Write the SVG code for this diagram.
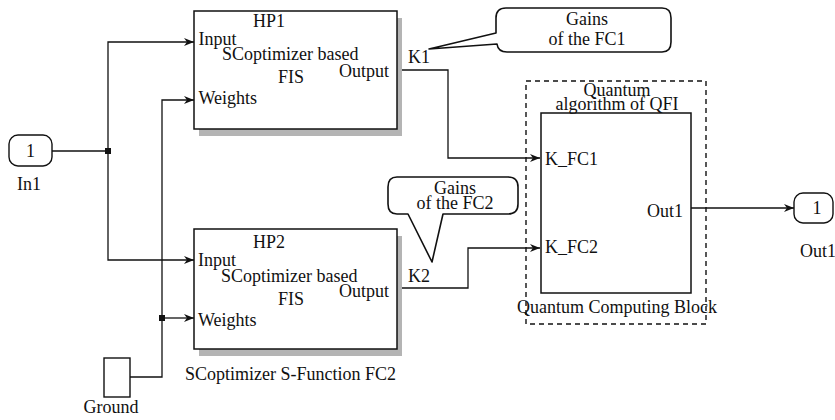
<svg xmlns="http://www.w3.org/2000/svg" width="835" height="420" viewBox="0 0 835 420">
<style>
text{font-family:"Liberation Serif","Times New Roman",serif;font-size:18px;fill:#111}
.mid{text-anchor:middle}
.end{text-anchor:end}
.ln{fill:none;stroke:#111;stroke-width:1.3}
.box{fill:#fff;stroke:#111;stroke-width:1.5}
.shadow{fill:#b4b4b4}
.port{fill:#fff;stroke:#111;stroke-width:1.4}
.dash{fill:none;stroke:#111;stroke-width:1.4;stroke-dasharray:5 4}
.bubble{fill:#fff;stroke:#111;stroke-width:1.6;stroke-linejoin:round}
.dot{fill:#111}
</style>
<defs>
<marker id="arr" markerUnits="userSpaceOnUse" markerWidth="12" markerHeight="10" refX="11" refY="5" orient="auto" viewBox="0 0 12 10">
<path d="M1,1 L11,5 L1,9 L4,5 Z" fill="#111"/>
</marker>
</defs>

<!-- connectors -->
<g id="connectors">
<path class="ln" d="M52,151 H108"/>
<path class="ln" d="M108,151 V42 H194" marker-end="url(#arr)"/>
<path class="ln" d="M108,151 V260 H194" marker-end="url(#arr)"/>
<path class="ln" d="M107,377 H162 V100 H194" marker-end="url(#arr)"/>
<path class="ln" d="M162,318 H194" marker-end="url(#arr)"/>
<path class="ln" d="M397,70 H448 V158 H540" marker-end="url(#arr)"/>
<path class="ln" d="M397,288 H468 V248 H540" marker-end="url(#arr)"/>
<path class="ln" d="M691,208 H794" marker-end="url(#arr)"/>
<rect class="dot" x="105" y="148" width="6" height="6"/>
<rect class="dot" x="159" y="315" width="6" height="6"/>
<text x="408" y="63">K1</text>
<text x="408" y="282">K2</text>
</g>

<!-- inport -->
<g id="in1">
<rect class="port" x="9" y="135" width="43" height="31" rx="9"/>
<text class="mid" x="30.5" y="157">1</text>
<text x="17" y="190">In1</text>
</g>

<!-- ground -->
<g id="ground">
<rect class="port" x="104" y="358" width="26" height="39"/>
<text class="mid" x="111" y="413">Ground</text>
</g>

<!-- HP1 block -->
<g id="hp1">
<rect class="shadow" x="199" y="18" width="203" height="118"/>
<rect class="box" x="194" y="11" width="203" height="118"/>
<text x="253" y="27">HP1</text>
<text x="198.5" y="45">Input</text>
<text x="222" y="60">SCoptimizer based</text>
<text x="278" y="83">FIS</text>
<text class="end" x="389" y="77">Output</text>
<text x="198.5" y="104">Weights</text>
</g>

<!-- HP2 block -->
<g id="hp2">
<rect class="shadow" x="199" y="236" width="203" height="120"/>
<rect class="box" x="194" y="229" width="203" height="120"/>
<text x="253" y="248">HP2</text>
<text x="198" y="266">Input</text>
<text x="221" y="282">SCoptimizer based</text>
<text x="278" y="305">FIS</text>
<text class="end" x="389" y="297">Output</text>
<text x="198" y="326">Weights</text>
<text x="185" y="380">SCoptimizer S-Function FC2</text>
</g>

<!-- quantum block -->
<g id="quantum">
<rect class="dash" x="526" y="81" width="180" height="243"/>
<rect class="box" x="541" y="113" width="150" height="180"/>
<text class="mid" x="617" y="96">Quantum</text>
<text class="mid" x="617" y="110">algorithm of QFI</text>
<text x="545" y="165">K_FC1</text>
<text x="545" y="253">K_FC2</text>
<text class="end" x="683" y="217">Out1</text>
<text class="mid" x="617" y="313">Quantum Computing Block</text>
</g>

<!-- outport -->
<g id="out1">
<rect class="port" x="794" y="193" width="39" height="30" rx="9"/>
<text class="mid" x="817" y="214">1</text>
<text x="800" y="257">Out1</text>
</g>

<!-- annotations -->
<g id="note-fc1">
<path class="bubble" d="M506,8 H662 Q671,8 671,18 V42 Q671,52 662,52 H507 Q498,52 497,44 L429,49 L496,33 V18 Q496,8 506,8 Z"/>
<text class="mid" x="587" y="25">Gains</text>
<text class="mid" x="587" y="45">of the FC1</text>
</g>
<g id="note-fc2">
<path class="bubble" d="M397,177 H508 Q518,177 518,187 V204 Q518,214 508,214 H443 L432,262 L408,214 H397 Q388,214 388,204 V187 Q388,177 397,177 Z"/>
<text class="mid" x="455" y="194">Gains</text>
<text class="mid" x="455" y="209">of the FC2</text>
</g>
</svg>
